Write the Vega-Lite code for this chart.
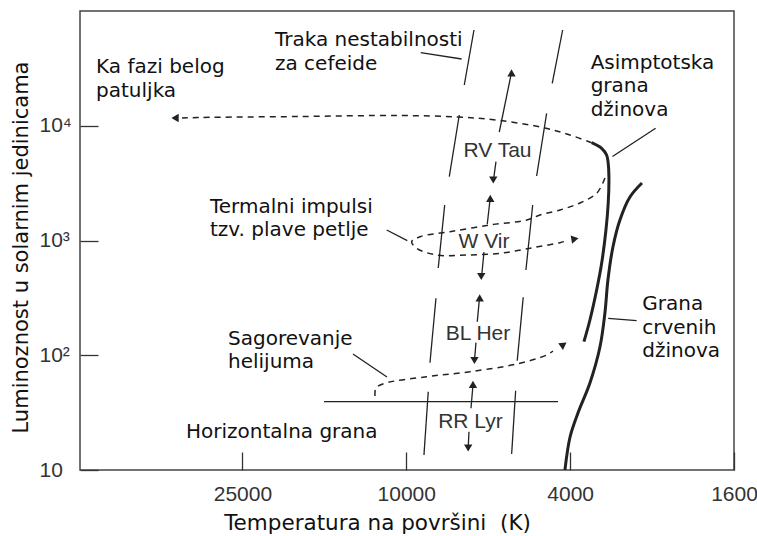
{
  "$schema": "https://vega.github.io/schema/vega-lite/v6.json",
  "width": 654,
  "height": 459,
  "autosize": "none",
  "padding": {"left": 80, "top": 11, "right": 23, "bottom": 66},
  "background": "white",
  "config": {"view": {"stroke": "#444", "strokeWidth": 1.5}, "font": "DejaVu Sans"},
  "datasets": {
    "thin": [
      {"T": 6849, "L": 68300, "T2": 7230, "L2": 22650},
      {"T": 4171, "L": 68300, "T2": 4421, "L2": 23440},
      {"T": 7435, "L": 12410, "T2": 7863, "L2": 3597},
      {"T": 4562, "L": 12840, "T2": 4824, "L2": 3648},
      {"T": 8067, "L": 2039, "T2": 8363, "L2": 575.9},
      {"T": 4932, "L": 2039, "T2": 5122, "L2": 553.3},
      {"T": 8471, "L": 313.6, "T2": 8760, "L2": 86.1},
      {"T": 5200, "L": 319.9, "T2": 5377, "L2": 89.63},
      {"T": 8844, "L": 48.12, "T2": 9059, "L2": 13.51},
      {"T": 5425, "L": 49.1, "T2": 5548, "L2": 13.79},
      {"T": 9226, "L": 43300, "T2": 7336, "L2": 38160},
      {"T": 3157, "L": 5395, "T2": 2480, "L2": 9501},
      {"T": 11158, "L": 1234, "T2": 9944, "L2": 996},
      {"T": 13473, "L": 102.5, "T2": 11140, "L2": 64.64},
      {"T": 3233, "L": 209.9, "T2": 2758, "L2": 200.1},
      {"T": 15840, "L": 39.37, "T2": 4281, "L2": 39.37},
      {"T": 5945, "L": 8822, "T2": 5568, "L2": 27690},
      {"T": 6056, "L": 4861, "T2": 6141, "L2": 3367},
      {"T": 6358, "L": 1392, "T2": 6262, "L2": 2254},
      {"T": 6476, "L": 793.9, "T2": 6560, "L2": 490.5},
      {"T": 6724, "L": 196.1, "T2": 6641, "L2": 315.5},
      {"T": 6773, "L": 128.7, "T2": 6830, "L2": 89.1},
      {"T": 6964, "L": 34.49, "T2": 6887, "L2": 55.05},
      {"T": 7043, "L": 21.57, "T2": 7074, "L2": 15.55}
    ],
    "branches": [
      {"branch": "RGB", "i": 1, "T": 4118, "L": 10},
      {"branch": "RGB", "i": 2, "T": 4002, "L": 19.39},
      {"branch": "RGB", "i": 3, "T": 3829, "L": 31.38},
      {"branch": "RGB", "i": 4, "T": 3581, "L": 57.32},
      {"branch": "RGB", "i": 5, "T": 3386, "L": 118},
      {"branch": "RGB", "i": 6, "T": 3293, "L": 233.5},
      {"branch": "RGB", "i": 7, "T": 3238, "L": 452.7},
      {"branch": "RGB", "i": 8, "T": 3149, "L": 877.8},
      {"branch": "RGB", "i": 9, "T": 3028, "L": 1509},
      {"branch": "RGB", "i": 10, "T": 2863, "L": 2394},
      {"branch": "RGB", "i": 11, "T": 2677, "L": 3171},
      {"branch": "AGB", "i": 1, "T": 3547, "L": 7117},
      {"branch": "AGB", "i": 2, "T": 3354, "L": 6361},
      {"branch": "AGB", "i": 3, "T": 3262, "L": 5561},
      {"branch": "AGB", "i": 4, "T": 3233, "L": 4708},
      {"branch": "AGB", "i": 5, "T": 3220, "L": 3597},
      {"branch": "AGB", "i": 6, "T": 3233, "L": 2110},
      {"branch": "AGB", "i": 7, "T": 3274, "L": 1234},
      {"branch": "AGB", "i": 8, "T": 3354, "L": 632.9},
      {"branch": "AGB", "i": 9, "T": 3449, "L": 370.3},
      {"branch": "AGB", "i": 10, "T": 3581, "L": 202.9},
      {"branch": "AGB", "i": 11, "T": 3703, "L": 131.3}
    ],
    "paths": [
      {"path": "top", "i": 1, "T": 3547, "L": 7117},
      {"path": "top", "i": 2, "T": 4004, "L": 8307},
      {"path": "top", "i": 3, "T": 4657, "L": 9656},
      {"path": "top", "i": 4, "T": 5923, "L": 11110},
      {"path": "top", "i": 5, "T": 7489, "L": 11919},
      {"path": "top", "i": 6, "T": 10359, "L": 12284},
      {"path": "top", "i": 7, "T": 18124, "L": 12039},
      {"path": "top", "i": 8, "T": 31688, "L": 11800},
      {"path": "top", "i": 9, "T": 35050, "L": 11682},
      {"path": "loop", "i": 1, "T": 3293, "L": 3505},
      {"path": "loop", "i": 2, "T": 3443, "L": 2594},
      {"path": "loop", "i": 3, "T": 3787, "L": 2123},
      {"path": "loop", "i": 4, "T": 4235, "L": 1844},
      {"path": "loop", "i": 5, "T": 4736, "L": 1668},
      {"path": "loop", "i": 6, "T": 5093, "L": 1509},
      {"path": "loop", "i": 7, "T": 6262, "L": 1365},
      {"path": "loop", "i": 8, "T": 7832, "L": 1193},
      {"path": "loop", "i": 9, "T": 9263, "L": 1079},
      {"path": "loop", "i": 10, "T": 9703, "L": 976.2},
      {"path": "loop", "i": 11, "T": 9435, "L": 855.3},
      {"path": "loop", "i": 12, "T": 8438, "L": 747.5},
      {"path": "loop", "i": 13, "T": 7134, "L": 747.5},
      {"path": "loop", "i": 14, "T": 5922, "L": 773.4},
      {"path": "loop", "i": 15, "T": 4923, "L": 865.6},
      {"path": "loop", "i": 16, "T": 4235, "L": 957},
      {"path": "loop", "i": 17, "T": 4049, "L": 1004},
      {"path": "helium", "i": 1, "T": 11912, "L": 44.15},
      {"path": "helium", "i": 2, "T": 11846, "L": 51.83},
      {"path": "helium", "i": 3, "T": 11265, "L": 56.96},
      {"path": "helium", "i": 4, "T": 8922, "L": 65.03},
      {"path": "helium", "i": 5, "T": 7004, "L": 71.87},
      {"path": "helium", "i": 6, "T": 5394, "L": 83.89},
      {"path": "helium", "i": 7, "T": 4562, "L": 100.5},
      {"path": "helium", "i": 8, "T": 4404, "L": 108.9}
    ],
    "heads": [
      {"T": 5553, "L": 28830, "dir": "up"},
      {"T": 6148, "L": 3367, "dir": "down"},
      {"T": 6252, "L": 2323, "dir": "up"},
      {"T": 6575, "L": 485.6, "dir": "down"},
      {"T": 6634, "L": 315.5, "dir": "up"},
      {"T": 6830, "L": 90.0, "dir": "down"},
      {"T": 6887, "L": 55.61, "dir": "up"},
      {"T": 7074, "L": 15.55, "dir": "down"},
      {"T": 36441, "L": 11682, "dir": "left"}
    ],
    "headLoop": [{"T": 3894, "L": 1031}],
    "headHelium": [{"T": 4150, "L": 124}],
    "notes": [
      {"T": 56680, "L": 28650, "label": "Ka fazi belog\npatuljka"},
      {"T": 20840, "L": 49050, "label": "Traka nestabilnosti\nza cefeide"},
      {"T": 3567, "L": 31230, "label": "Asimptotska\ngrana\ndžinova"},
      {"T": 29970, "L": 1737, "label": "Termalni impulsi\ntzv. plave petlje"},
      {"T": 27100, "L": 122.9, "label": "Sagorevanje\nhelijuma"},
      {"T": 34270, "L": 19.01, "label": "Horizontalna grana"},
      {"T": 2673, "L": 245.5, "label": "Grana\ncrvenih\ndžinova"}
    ],
    "types": [
      {"T": 6005, "L": 5374, "label": "RV Tau"},
      {"T": 6476, "L": 855.3, "label": "W Vir"},
      {"T": 6697, "L": 135.8, "label": "BL Her"},
      {"T": 6984, "L": 23.23, "label": "RR Lyr"}
    ]
  },
  "encoding": {
    "x": {
      "field": "T", "type": "quantitative",
      "scale": {"type": "log", "domain": [1600, 62000], "reverse": true, "nice": false, "zero": false},
      "axis": {
        "values": [25000, 10000, 4000, 1600], "format": "d",
        "tickSize": -18, "tickColor": "#333", "tickWidth": 1.3,
        "domain": false, "grid": false, "labelOverlap": false,
        "labelFont": "Liberation Sans", "labelFontSize": 21, "labelColor": "#333",
        "labelBaseline": "alphabetic", "labelAlign": "center", "labelPadding": 48,
        "title": "Temperatura na površini\u00a0 (K)",
        "titleFont": "DejaVu Sans", "titleFontSize": 21.5, "titleFontWeight": "normal", "titleColor": "#111",
        "titleX": 297, "titleY": 59, "titleBaseline": "alphabetic", "titleAlign": "center"
      }
    },
    "y": {
      "field": "L", "type": "quantitative",
      "scale": {"type": "log", "domain": [10, 100000], "nice": false, "zero": false},
      "axis": {
        "values": [10, 100, 1000, 10000],
        "labelExpr": "datum.value == 10 ? '10' : datum.value == 100 ? '10²' : datum.value == 1000 ? '10³' : '10⁴'",
        "tickSize": -18, "tickColor": "#333", "tickWidth": 1.3,
        "domain": false, "grid": false, "labelOverlap": false,
        "labelFont": "Liberation Sans", "labelFontSize": 21, "labelColor": "#333",
        "labelAlign": "left", "labelBaseline": "middle", "labelPadding": 59, "labelFlush": true,
        "title": "Luminoznost u solarnim jedinicama",
        "titleFont": "DejaVu Sans", "titleFontSize": 21, "titleFontWeight": "normal", "titleColor": "#111",
        "titleX": -53, "titleY": 236, "titleAngle": -90, "titleBaseline": "alphabetic", "titleAlign": "center"
      }
    }
  },
  "layer": [
    {
      "data": {"name": "thin"},
      "mark": {"type": "rule", "color": "#222", "strokeWidth": 1.3},
      "encoding": {"x2": {"field": "T2"}, "y2": {"field": "L2"}}
    },
    {
      "data": {"name": "branches"},
      "mark": {"type": "line", "color": "#222", "strokeWidth": 3, "interpolate": "catmull-rom"},
      "encoding": {"detail": {"field": "branch", "type": "nominal"}, "order": {"field": "i", "type": "quantitative"}}
    },
    {
      "data": {"name": "paths"},
      "mark": {"type": "line", "color": "#222", "strokeWidth": 1.5, "strokeDash": [6, 5], "interpolate": "catmull-rom"},
      "encoding": {"detail": {"field": "path", "type": "nominal"}, "order": {"field": "i", "type": "quantitative"}}
    },
    {
      "data": {"name": "heads"},
      "mark": {"type": "point", "filled": true, "color": "#222", "size": 70, "opacity": 1},
      "encoding": {
        "shape": {
          "field": "dir", "type": "nominal",
          "scale": {"domain": ["up", "down", "left", "right"], "range": ["triangle-up", "triangle-down", "triangle-left", "triangle-right"]},
          "legend": null
        }
      }
    },
    {
      "data": {"name": "headLoop"},
      "mark": {"type": "point", "filled": true, "color": "#222", "size": 70, "opacity": 1, "shape": "triangle-right", "angle": -10}
    },
    {
      "data": {"name": "headHelium"},
      "mark": {"type": "point", "filled": true, "color": "#222", "size": 70, "opacity": 1, "shape": "triangle-right", "angle": -35}
    },
    {
      "data": {"name": "notes"},
      "mark": {"type": "text", "font": "DejaVu Sans", "fontSize": 20, "align": "left", "baseline": "alphabetic", "lineBreak": "\n", "lineHeight": 23.5, "color": "#111"},
      "encoding": {"text": {"field": "label", "type": "nominal"}}
    },
    {
      "data": {"name": "types"},
      "mark": {"type": "text", "font": "Liberation Sans", "fontSize": 21, "align": "center", "baseline": "alphabetic", "color": "#333"},
      "encoding": {"text": {"field": "label", "type": "nominal"}}
    }
  ]
}
